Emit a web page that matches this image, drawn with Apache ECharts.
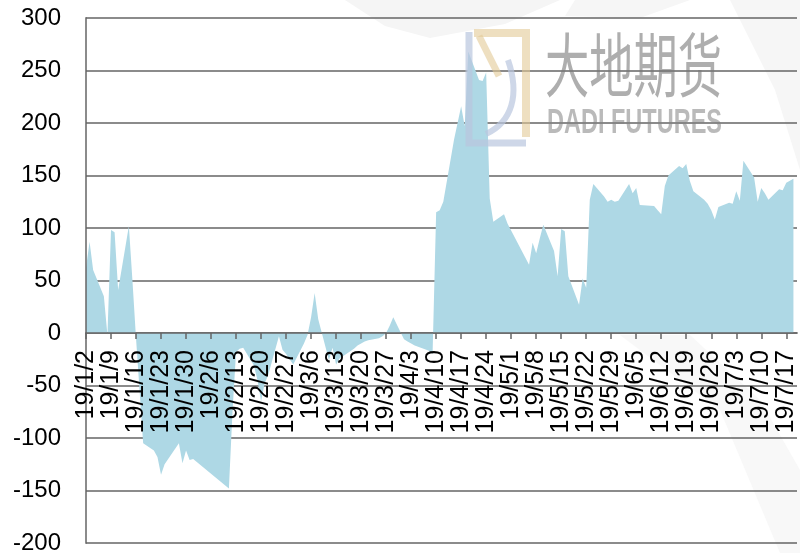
<!DOCTYPE html>
<html>
<head>
<meta charset="utf-8">
<script src="https://cdn.jsdelivr.net/npm/echarts@6/dist/echarts.min.js"></script>
<style>
  html, body { margin: 0; padding: 0; background: #fff; }
  #chart { width: 800px; height: 553px; }
</style>
</head>
<body>
<div id="chart"></div>
<script>
// 交易日与数值
const dates = [
  '2019-01-02','2019-01-03','2019-01-04','2019-01-07','2019-01-08','2019-01-09','2019-01-10','2019-01-11',
  '2019-01-14','2019-01-15','2019-01-16','2019-01-17','2019-01-18','2019-01-21','2019-01-22','2019-01-23',
  '2019-01-24','2019-01-25','2019-01-28','2019-01-29','2019-01-30','2019-01-31','2019-02-01','2019-02-11',
  '2019-02-12','2019-02-13','2019-02-14','2019-02-15','2019-02-18','2019-02-19','2019-02-20','2019-02-21',
  '2019-02-22','2019-02-25','2019-02-26','2019-02-27','2019-02-28','2019-03-01','2019-03-04','2019-03-05',
  '2019-03-06','2019-03-07','2019-03-08','2019-03-11','2019-03-12','2019-03-13','2019-03-14','2019-03-15',
  '2019-03-18','2019-03-19','2019-03-20','2019-03-21','2019-03-22','2019-03-25','2019-03-26','2019-03-27',
  '2019-03-28','2019-03-29','2019-04-01','2019-04-02','2019-04-03','2019-04-04','2019-04-08','2019-04-09',
  '2019-04-10','2019-04-11','2019-04-12','2019-04-15','2019-04-16','2019-04-17','2019-04-18','2019-04-19',
  '2019-04-22','2019-04-23','2019-04-24','2019-04-25','2019-04-26','2019-04-29','2019-04-30','2019-05-06',
  '2019-05-07','2019-05-08','2019-05-09','2019-05-10','2019-05-13','2019-05-14','2019-05-15','2019-05-16',
  '2019-05-17','2019-05-20','2019-05-21','2019-05-22','2019-05-23','2019-05-24','2019-05-27','2019-05-28',
  '2019-05-29','2019-05-30','2019-05-31','2019-06-03','2019-06-04','2019-06-05','2019-06-06','2019-06-10',
  '2019-06-11','2019-06-12','2019-06-13','2019-06-14','2019-06-17','2019-06-18','2019-06-19','2019-06-20',
  '2019-06-21','2019-06-24','2019-06-25','2019-06-26','2019-06-27','2019-06-28','2019-07-01','2019-07-02',
  '2019-07-03','2019-07-04','2019-07-05','2019-07-08','2019-07-09','2019-07-10','2019-07-11','2019-07-12',
  '2019-07-15','2019-07-16','2019-07-17','2019-07-18','2019-07-19'
]
const values = [
  62, 87, 60, 35, -2, 98, 96, 41,
  102, 50, -5, -55, -105, -112, -118, -135,
  -125, -120, -105, -124, -112, -121, -120, -148,
  -75, -18, -15, -14, -31, -45, -65, -48,
  -40, -3, -16, -20, -25, -30, -10, -2,
  15, 38, 13, -26, -14, -30, -24, -22,
  -15, -12, -10, -8, -7, -5, -3, 0,
  7, 15, -6, -8, -10, -12, -17, -20,
  115, 117, 125, 184, 200, 216, 197, 268,
  241, 240, 248, 128, 106, 113, 104, 65,
  86, 76, 90, 103, 78, 54, 99, 97,
  54, 27, 52, 43, 127, 142, 130, 125,
  127, 125, 126, 142, 133, 138, 122, 121,
  117, 113, 140, 150, 159, 157, 161, 145,
  135, 127, 123, 117, 108, 120, 124, 123,
  135, 126, 164, 148, 125, 138, 133, 127,
  137, 136, 143, 145, 147
]

// 坐标轴：从 19/1/2 起按天计，每 7 天一个刻度
const startDate = '2019-01-02'
const tickStep = 7
const axisMaxDay = 199
const yMin = -200
const yMax = 300

const DAY = 86400000
const t0 = Date.parse(startDate + 'T00:00:00Z')
function dayOffset(s) {
  return Math.round((Date.parse(s + 'T00:00:00Z') - t0) / DAY)
}
function dayLabel(d) {
  if (d % tickStep !== 0) return ''
  const dt = new Date(t0 + d * DAY)
  return `${String(dt.getUTCFullYear()).slice(2)}/${dt.getUTCMonth() + 1}/${dt.getUTCDate()}`
}

const seriesData = dates.map((s, i) => [dayOffset(s), values[i]])

const gridTop = 18
const gridBottom = 10
const gridHeight = 553 - gridTop - gridBottom
// x 轴整体上移到 0 值处（v6 中 onZero 不带动标签）
const zeroOffset = -gridHeight * (0 - yMin) / (yMax - yMin)

const gridColor = 'rgba(100,100,100,0.75)'

// 水印文字宽度适配
const measureCtx = document.createElement('canvas').getContext('2d')
function fitScale(text, font, w) {
  measureCtx.font = font
  return w / measureCtx.measureText(text).width
}
const cnFont = '70px "Noto Sans CJK SC"'
const enFont = 'bold 35px "Liberation Sans"'

const chart = echarts.init(document.getElementById('chart'))

chart.setOption({
  animation: false,
  backgroundColor: '#fff',
  grid: {
    left: 86,
    right: 3,
    top: gridTop,
    bottom: gridBottom,
    outerBoundsMode: 'none'
  },
  xAxis: {
    type: 'value',
    min: 0,
    max: axisMaxDay,
    interval: tickStep,
    offset: zeroOffset,
    z: 3,
    axisLine: { onZero: false, lineStyle: { color: gridColor, width: 2 } },
    axisTick: { show: true, length: 6, lineStyle: { color: gridColor, width: 2 } },
    axisLabel: {
      rotate: 90,
      margin: 17,
      hideOverlap: false,
      showMaxLabel: false,
      formatter: v => dayLabel(v),
      color: '#000',
      fontSize: 25,
      fontFamily: 'Liberation Sans'
    },
    splitLine: { show: false }
  },
  yAxis: {
    type: 'value',
    min: yMin,
    max: yMax,
    interval: 50,
    z: 3,
    axisLine: { show: true, lineStyle: { color: gridColor, width: 2 } },
    axisTick: { show: false },
    axisLabel: {
      margin: 25,
      color: '#000',
      fontSize: 24,
      fontFamily: 'Liberation Sans'
    },
    splitLine: { show: true, lineStyle: { color: gridColor, width: 2 } }
  },
  series: [
    {
      type: 'line',
      data: seriesData,
      symbol: 'none',
      silent: true,
      lineStyle: { width: 0 },
      areaStyle: { color: '#aed8e5', opacity: 1 }
    }
  ],
  graphic: [
    // 背景浅灰色弧带
    { type: 'polygon', z: -10, silent: true,
      shape: { points: [[345, 0], [560, 0], [505, 24], [430, 38], [385, 26]] },
      style: { fill: '#f5f5f5' } },
    { type: 'polygon', z: -10, silent: true,
      shape: { points: [[575, 0], [690, 0], [640, 18], [565, 16]] },
      style: { fill: '#f6f6f6' } },
    { type: 'polygon', z: -10, silent: true,
      shape: { points: [[730, 0], [800, 0], [800, 170], [775, 90]] },
      style: { fill: '#f6f6f6' } },
    { type: 'polygon', z: -10, silent: true,
      shape: { points: [[620, 335], [690, 335], [760, 400], [800, 470], [800, 553], [780, 553], [720, 410]] },
      style: { fill: '#f8f8f8' } },
    // 大地期货 logo
    { type: 'polyline', z: 100, silent: true,
      shape: { points: [[469, 32], [469, 143], [526, 143]] },
      style: { stroke: 'rgba(185,198,222,0.7)', lineWidth: 7, fill: null } },
    { type: 'polyline', z: 100, silent: true,
      shape: { points: [[474, 33], [526, 33], [526, 137]] },
      style: { stroke: 'rgba(226,202,150,0.6)', lineWidth: 8, fill: null } },
    { type: 'line', z: 100, silent: true,
      shape: { x1: 479, y1: 36, x2: 499, y2: 76 },
      style: { stroke: 'rgba(226,202,150,0.6)', lineWidth: 7 } },
    { type: 'bezierCurve', z: 100, silent: true,
      shape: { x1: 508, y1: 60, cpx1: 520, cpy1: 95, cpx2: 512, cpy2: 122, x2: 486, y2: 134 },
      style: { stroke: 'rgba(185,198,222,0.7)', lineWidth: 6, fill: null } },
    { type: 'text', z: 100, silent: true,
      x: 545, y: 30, scaleX: fitScale('大地期货', cnFont, 177),
      style: { text: '大地期货', font: cnFont, fill: 'rgba(120,120,120,0.6)', verticalAlign: 'top' } },
    { type: 'text', z: 100, silent: true,
      x: 547, y: 106, scaleX: fitScale('DADI FUTURES', enFont, 175),
      style: { text: 'DADI FUTURES', font: enFont, fill: 'rgba(130,130,130,0.55)', verticalAlign: 'top' } }
  ]
})
</script>
</body>
</html>
